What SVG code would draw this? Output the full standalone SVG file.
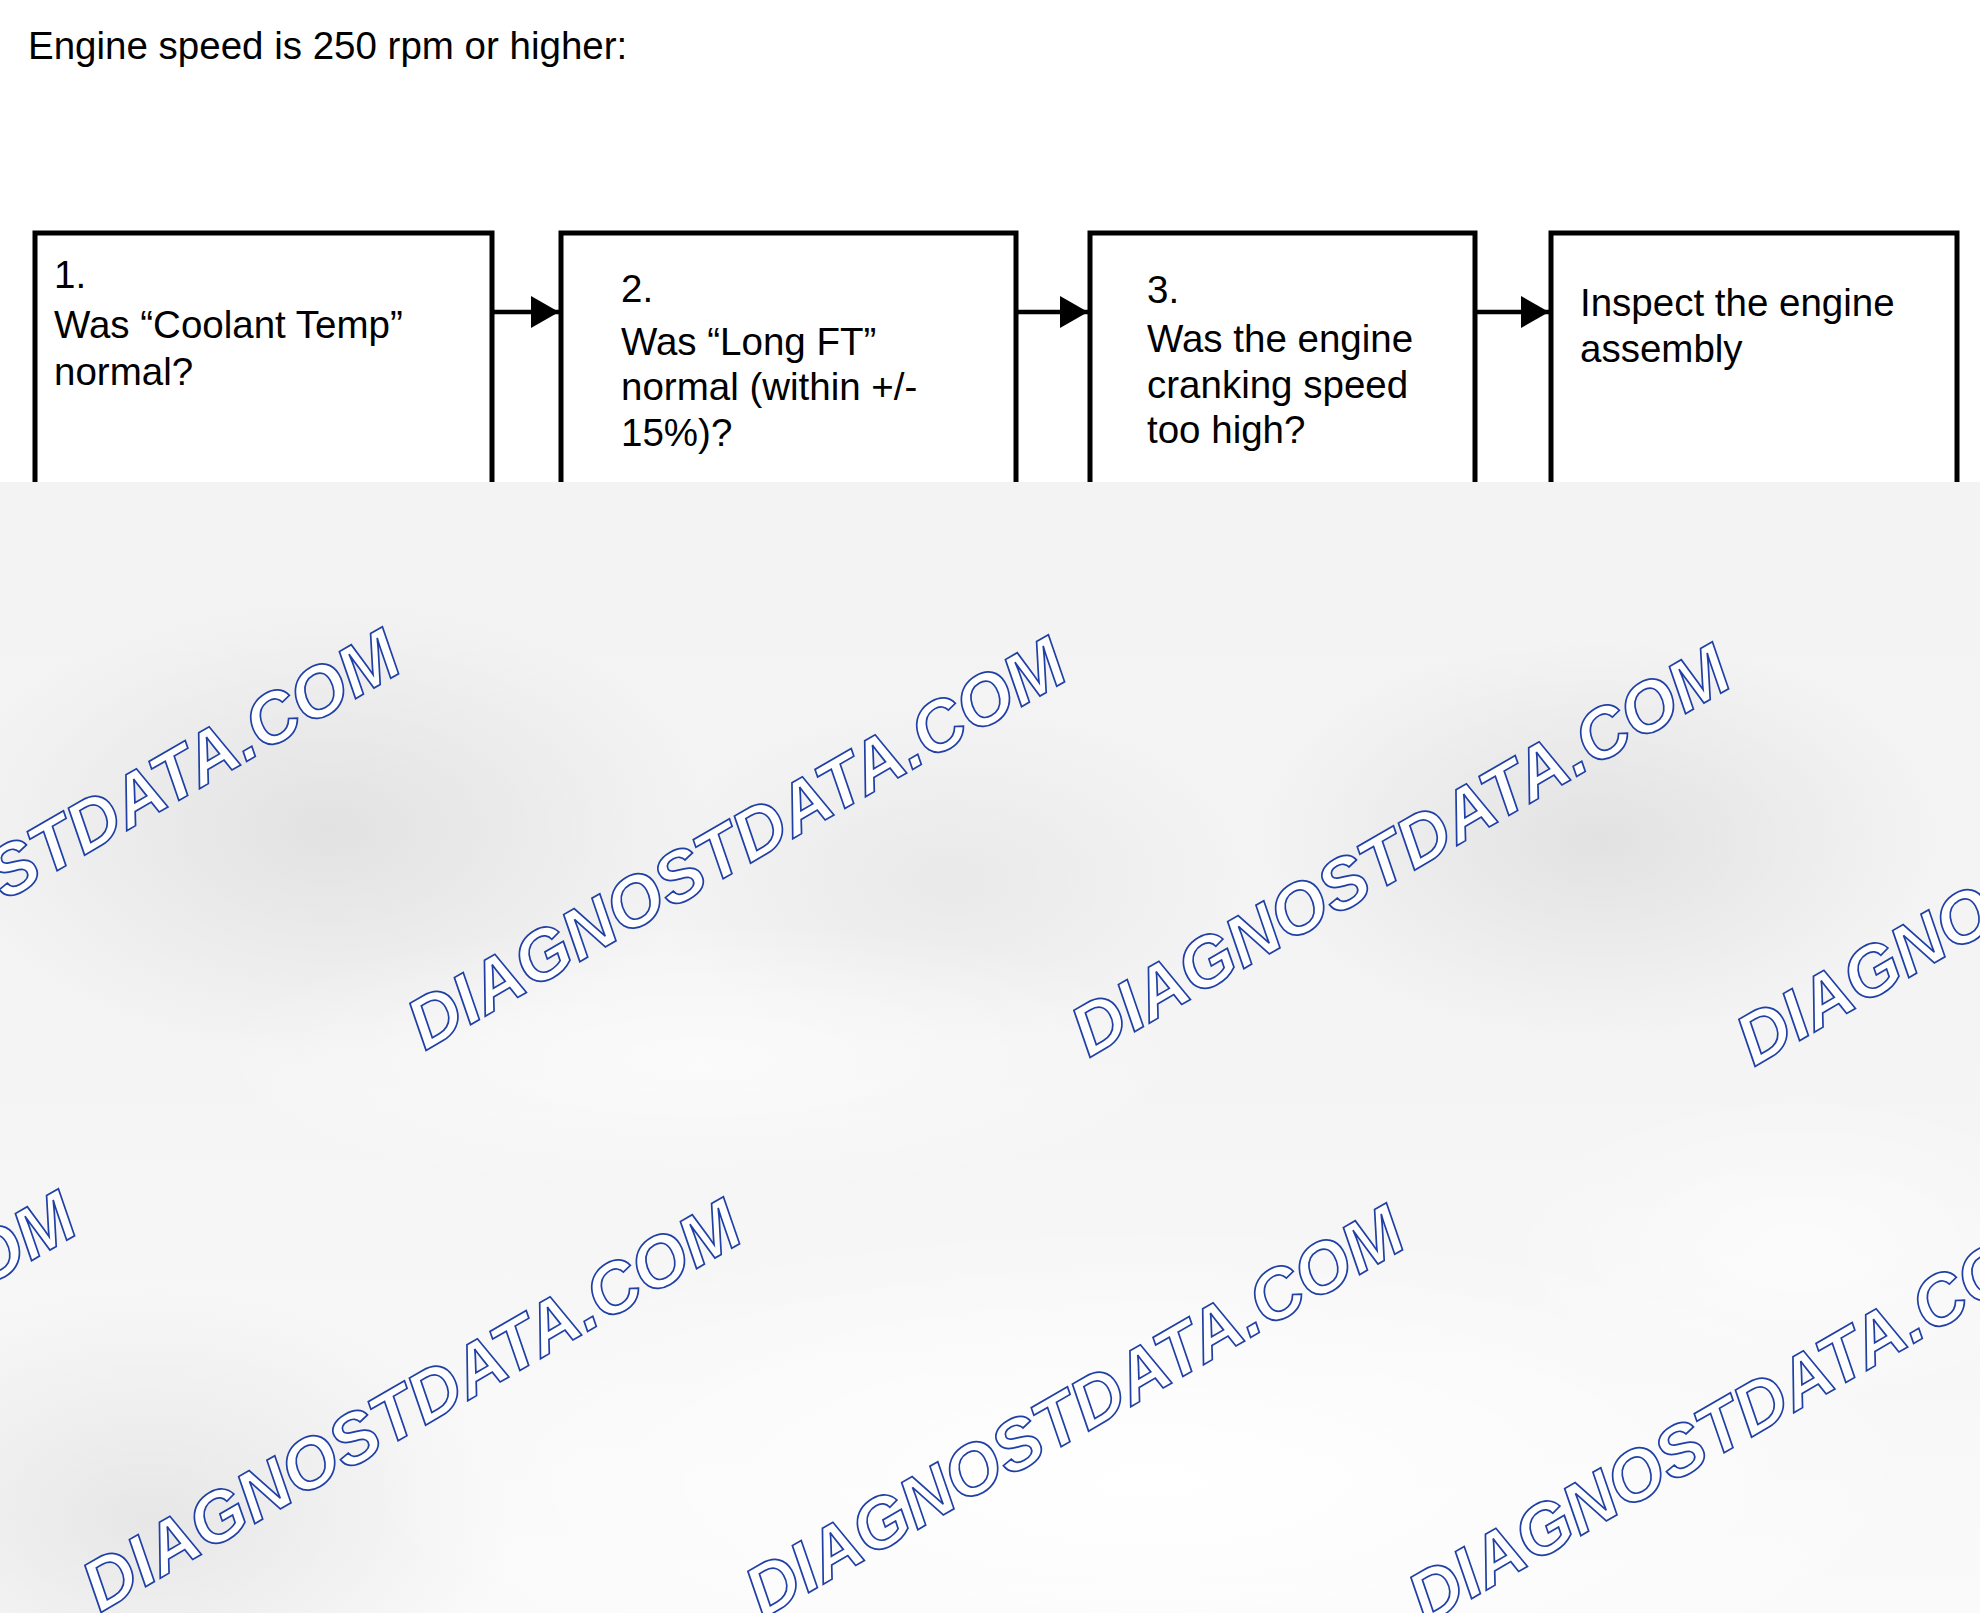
<svg xmlns="http://www.w3.org/2000/svg" width="1980" height="1613" viewBox="0 0 1980 1613">
<style>
.t{font-family:"Liberation Sans",Arial,sans-serif;fill:#000}
.title{font-size:38.5px}
.lbl{font-size:38.5px}
.box{fill:#fff;stroke:#000;stroke-width:5}
.con{stroke:#000;stroke-width:4.5;fill:none}
.wm{font-family:"Liberation Sans",Arial,sans-serif;font-weight:bold;font-style:italic;font-size:71px;fill:#fff;stroke:#2040a6;stroke-width:1.7}
</style>
<defs>
<marker id="ah" viewBox="0 0 28 32" refX="28" refY="16" markerWidth="28" markerHeight="32" markerUnits="userSpaceOnUse" orient="auto">
<path d="M0,0 L28,16 L0,32 z" fill="#000"/>
</marker>
<linearGradient id="bgl" x1="0" y1="0" x2="0" y2="1">
<stop offset="0" stop-color="#f3f3f3"/>
<stop offset="0.5" stop-color="#f4f4f5"/>
<stop offset="1" stop-color="#fafafb"/>
</linearGradient>
<radialGradient id="dk">
<stop offset="0" stop-color="#e2e2e3" stop-opacity="1"/>
<stop offset="1" stop-color="#e2e2e3" stop-opacity="0"/>
</radialGradient>
<radialGradient id="wh">
<stop offset="0" stop-color="#ffffff" stop-opacity="1"/>
<stop offset="1" stop-color="#ffffff" stop-opacity="0"/>
</radialGradient>
</defs>
<rect width="1980" height="1613" fill="#fff"/>
<text class="t title" x="28" y="59">Engine speed is 250 rpm or higher:</text>
<g id="node1">
<rect class="box" x="35" y="233" width="457" height="500"/>
<text class="t lbl" x="54" y="288">1.</text>
<text class="t lbl" x="54" y="338">Was “Coolant Temp”</text>
<text class="t lbl" x="54" y="385">normal?</text>
</g>
<g id="node2">
<rect class="box" x="561" y="233" width="455" height="500"/>
<text class="t lbl" x="621" y="302">2.</text>
<text class="t lbl" x="621" y="355">Was “Long FT”</text>
<text class="t lbl" x="621" y="400">normal (within +/-</text>
<text class="t lbl" x="621" y="446">15%)?</text>
</g>
<g id="node3">
<rect class="box" x="1090" y="233" width="385" height="500"/>
<text class="t lbl" x="1147" y="303">3.</text>
<text class="t lbl" x="1147" y="352">Was the engine</text>
<text class="t lbl" x="1147" y="398">cranking speed</text>
<text class="t lbl" x="1147" y="443">too high?</text>
</g>
<g id="node4">
<rect class="box" x="1551" y="233" width="406" height="500"/>
<text class="t lbl" x="1580" y="316">Inspect the engine</text>
<text class="t lbl" x="1580" y="362">assembly</text>
</g>
<g id="connectors">
<line class="con" x1="494" y1="312" x2="559" y2="312" marker-end="url(#ah)"/>
<line class="con" x1="1018" y1="312" x2="1088" y2="312" marker-end="url(#ah)"/>
<line class="con" x1="1477" y1="312" x2="1549" y2="312" marker-end="url(#ah)"/>
</g>
<g id="overlay">
<rect x="0" y="482" width="1980" height="1131" fill="url(#bgl)"/>
<ellipse cx="330" cy="830" rx="380" ry="230" fill="url(#dk)"/>
<ellipse cx="1600" cy="840" rx="340" ry="200" fill="url(#dk)"/>
<ellipse cx="950" cy="880" rx="300" ry="170" fill="url(#dk)" opacity="0.6"/>
<ellipse cx="150" cy="1520" rx="360" ry="230" fill="url(#dk)" opacity="0.8"/>
<ellipse cx="1150" cy="1480" rx="800" ry="260" fill="url(#wh)"/>
<ellipse cx="700" cy="1060" rx="500" ry="140" fill="url(#wh)" opacity="0.6"/>
<ellipse cx="1800" cy="1250" rx="300" ry="160" fill="url(#wh)" opacity="0.6"/>
</g>
<g id="watermarks">
<text class="wm" transform="translate(-241,1043) rotate(-30)">DIAGNOSTDATA.COM</text>
<text class="wm" transform="translate(425,1051) rotate(-30)">DIAGNOSTDATA.COM</text>
<text class="wm" transform="translate(1089,1058) rotate(-30)">DIAGNOSTDATA.COM</text>
<text class="wm" transform="translate(1754,1067) rotate(-30)">DIAGNOSTDATA.COM</text>
<text class="wm" transform="translate(-565,1605) rotate(-30)">DIAGNOSTDATA.COM</text>
<text class="wm" transform="translate(100,1613) rotate(-30)">DIAGNOSTDATA.COM</text>
<text class="wm" transform="translate(763,1619) rotate(-30)">DIAGNOSTDATA.COM</text>
<text class="wm" transform="translate(1426,1625) rotate(-30)">DIAGNOSTDATA.COM</text>
</g>
</svg>
